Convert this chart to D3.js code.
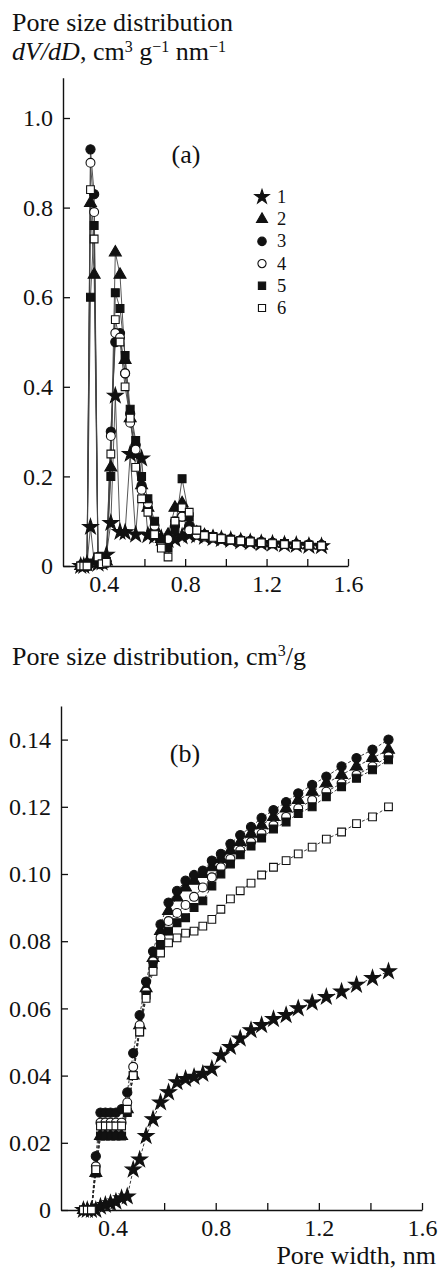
<!DOCTYPE html>
<html lang="en">
<head>
<meta charset="UTF-8">
<title>Pore size distribution</title>
<script src="https://cdn.jsdelivr.net/npm/d3@7"></script>
<style>
  body { margin: 0; background: #fff; }
  text { font-family: "Liberation Serif", "Times New Roman", serif; fill: #111; }
</style>
</head>
<body>
<svg id="chart" width="440" height="1271"></svg>
<script>
// pore width grid, nm (shared by both panels)
const poreWidth = [0.287, 0.302, 0.318, 0.335, 0.353, 0.372, 0.392, 0.413, 0.435, 0.457,
  0.48, 0.505, 0.53, 0.557, 0.586, 0.617, 0.65, 0.683, 0.716, 0.75,
  0.785, 0.82, 0.857, 0.895, 0.937, 0.978, 1.024, 1.073, 1.12, 1.174,
  1.229, 1.288, 1.346, 1.408, 1.47];

const seriesNames = ['1', '2', '3', '4', '5', '6'];

// (a) dV/dD, cm3 g-1 nm-1
const dist1 = [0, 0, 0.005, 0.087, 0.01, 0.005, 0.008, 0.025, 0.096, 0.38, 0.076, 0.075, 0.25, 0.07, 0.24, 0.069, 0.066, 0.062, 0.058, 0.06, 0.066, 0.07, 0.068, 0.065, 0.062, 0.06, 0.058, 0.055, 0.053, 0.051, 0.05, 0.048, 0.047, 0.045, 0.044];
const dist2 = [0, 0, 0.004, 0.81, 0.65, 0.01, 0.005, 0.01, 0.22, 0.70, 0.65, 0.46, 0.33, 0.25, 0.18, 0.13, 0.085, 0.06, 0.07, 0.13, 0.14, 0.09, 0.075, 0.068, 0.064, 0.06, 0.058, 0.056, 0.054, 0.052, 0.05, 0.049, 0.047, 0.046, 0.045];
const dist3 = [0, 0, 0, 0.93, 0.83, 0.02, 0.005, 0.01, 0.30, 0.50, 0.52, 0.43, 0.34, 0.27, 0.18, 0.13, 0.08, 0.05, 0.06, 0.09, 0.11, 0.09, 0.075, 0.07, 0.065, 0.062, 0.06, 0.058, 0.056, 0.054, 0.052, 0.05, 0.049, 0.048, 0.047];
const dist4 = [0, 0, 0, 0.90, 0.79, 0.02, 0.005, 0.01, 0.29, 0.52, 0.51, 0.43, 0.32, 0.26, 0.17, 0.14, 0.09, 0.05, 0.06, 0.10, 0.11, 0.08, 0.07, 0.066, 0.063, 0.06, 0.058, 0.056, 0.054, 0.052, 0.05, 0.049, 0.048, 0.047, 0.046];
const dist5 = [0, 0, 0, 0.60, 0.76, 0.015, 0.005, 0.01, 0.20, 0.61, 0.575, 0.47, 0.35, 0.28, 0.20, 0.15, 0.10, 0.06, 0.04, 0.08, 0.195, 0.11, 0.08, 0.07, 0.066, 0.062, 0.06, 0.057, 0.055, 0.053, 0.051, 0.05, 0.048, 0.047, 0.046];
const dist6 = [0, 0, 0, 0.84, 0.73, 0.02, 0.005, 0.008, 0.25, 0.55, 0.50, 0.40, 0.33, 0.22, 0.15, 0.12, 0.07, 0.04, 0.02, 0.10, 0.13, 0.12, 0.08, 0.068, 0.064, 0.061, 0.058, 0.056, 0.054, 0.052, 0.05, 0.048, 0.047, 0.046, 0.045];

// (b) cumulative pore volume, cm3/g
const cum1 = [0, 0, 0, 0, 0.001, 0.0015, 0.002, 0.0025, 0.0035, 0.004, 0.012, 0.015, 0.022, 0.027, 0.032, 0.035, 0.038, 0.039, 0.0396, 0.0405, 0.042, 0.046, 0.0485, 0.051, 0.0535, 0.055, 0.0568, 0.058, 0.060, 0.0617, 0.0634, 0.065, 0.067, 0.069, 0.071];
const cum2 = [0, 0, 0, 0.011, 0.022, 0.022, 0.022, 0.022, 0.022, 0.03, 0.040, 0.055, 0.066, 0.075, 0.083, 0.089, 0.093, 0.096, 0.098, 0.100, 0.102, 0.1045, 0.107, 0.1095, 0.112, 0.1145, 0.117, 0.1195, 0.122, 0.1245, 0.127, 0.1295, 0.132, 0.1345, 0.137];
const cum3 = [0, 0, 0, 0.016, 0.029, 0.029, 0.029, 0.029, 0.030, 0.035, 0.0467, 0.058, 0.068, 0.077, 0.085, 0.0915, 0.095, 0.098, 0.0997, 0.101, 0.104, 0.106, 0.109, 0.1116, 0.114, 0.1167, 0.119, 0.1214, 0.124, 0.1265, 0.129, 0.132, 0.1345, 0.137, 0.140];
const cum4 = [0, 0, 0, 0.013, 0.026, 0.026, 0.026, 0.026, 0.026, 0.032, 0.0426, 0.055, 0.065, 0.074, 0.081, 0.086, 0.0884, 0.0908, 0.0932, 0.096, 0.099, 0.102, 0.1045, 0.107, 0.1095, 0.112, 0.1145, 0.117, 0.1195, 0.122, 0.1245, 0.127, 0.1295, 0.132, 0.135];
const cum5 = [0, 0, 0, 0.011, 0.022, 0.022, 0.022, 0.022, 0.022, 0.029, 0.040, 0.053, 0.064, 0.073, 0.079, 0.083, 0.0855, 0.087, 0.090, 0.092, 0.0964, 0.100, 0.103, 0.1057, 0.1083, 0.1107, 0.1134, 0.1155, 0.118, 0.120, 0.123, 0.126, 0.1285, 0.131, 0.134];
const cum6 = [0, 0, 0, 0.012, 0.025, 0.025, 0.025, 0.025, 0.025, 0.030, 0.040, 0.053, 0.063, 0.071, 0.0765, 0.0795, 0.081, 0.0824, 0.083, 0.0845, 0.0865, 0.0895, 0.0926, 0.095, 0.0973, 0.0997, 0.102, 0.104, 0.106, 0.108, 0.1104, 0.1125, 0.115, 0.117, 0.120];

const xTicks = [0.4, 0.6, 0.8, 1.0, 1.2, 1.4, 1.6];
const xLabelled = [0.4, 0.8, 1.2, 1.6];
const yTicksA = [0, 0.2, 0.4, 0.6, 0.8, 1.0];
const yTicksB = [0, 0.02, 0.04, 0.06, 0.08, 0.10, 0.12, 0.14];

// marker per series: star, filled triangle, filled circle, open circle, filled square, open square
const markers = [
  { type: d3.symbolStar, size: 75, fill: '#111' },
  { type: d3.symbolTriangle, size: 62, fill: '#111' },
  { type: d3.symbolCircle, size: 66, fill: '#111' },
  { type: d3.symbolCircle, size: 62, fill: '#fff' },
  { type: d3.symbolSquare, size: 62, fill: '#111' },
  { type: d3.symbolSquare, size: 60, fill: '#fff' }
];

const svg = d3.select('#chart');

function panel(opt) {
  const x = d3.scaleLinear().domain([0.2, 1.6]).range(opt.xRange);
  const y = d3.scaleLinear().domain([0, opt.yTop]).range(opt.yRange);
  const g = svg.append('g');

  // y axis, ticks inward
  const ya = g.append('g')
    .attr('transform', `translate(${opt.xRange[0]},0)`)
    .call(d3.axisLeft(y).tickValues(opt.yTicks).tickSizeInner(-7).tickSizeOuter(0)
      .tickPadding(10).tickFormat(d => d === 0 ? '0' : d3.format(opt.yFmt)(d)));
  // x axis
  const xa = g.append('g')
    .attr('transform', `translate(0,${opt.yRange[0]})`)
    .call(d3.axisBottom(x).tickValues(xTicks).tickSizeInner(-7).tickSizeOuter(0)
      .tickPadding(9).tickFormat(d => xLabelled.some(v => Math.abs(v - d) < 1e-6) ? d3.format('.1f')(d) : ''));
  [ya, xa].forEach(a => {
    a.select('.domain').attr('stroke', '#111').attr('stroke-width', 1.4);
    a.selectAll('.tick line').attr('stroke', '#111').attr('stroke-width', 1.3);
    a.selectAll('text').attr('font-size', opt.tickFont).attr('fill', '#111')
      .style('font-family', '"Liberation Serif", serif');
  });

  const line = d3.line().x((d, i) => x(poreWidth[i])).y(d => y(d));
  opt.series.forEach((vals, s) => {
    g.append('path').datum(vals)
      .attr('d', line)
      .attr('fill', 'none')
      .attr('stroke', opt.lineColor)
      .attr('stroke-width', 0.9)
      .attr('stroke-dasharray', opt.dash);
  });
  opt.series.forEach((vals, s) => {
    const m = markers[s];
    g.append('g').selectAll('path').data(vals).join('path')
      .attr('transform', (d, i) => `translate(${x(poreWidth[i])},${y(d)})`)
      .attr('d', d3.symbol().type(m.type).size(m.size))
      .attr('fill', m.fill)
      .attr('stroke', '#111')
      .attr('stroke-width', 1.1);
  });
  return { x, y, g };
}

// ---- panel (a)
const pa = panel({
  xRange: [63, 348], yRange: [566, 566 - 1.09 * 448], yTop: 1.09,
  yTicks: yTicksA, yFmt: '.1f', tickFont: 24, dash: null, lineColor: '#444',
  series: [dist1, dist2, dist3, dist4, dist5, dist6]
});

const t1 = svg.append('text').attr('x', 12).attr('y', 31).attr('font-size', 26).text('Pore size distribution');
const t2 = svg.append('text').attr('x', 12).attr('y', 60).attr('font-size', 26);
t2.append('tspan').attr('font-style', 'italic').text('dV/dD');
t2.append('tspan').text(', cm');
t2.append('tspan').attr('font-size', 16).attr('dy', -8).text('3');
t2.append('tspan').attr('dy', 8).text(' g');
t2.append('tspan').attr('font-size', 16).attr('dy', -8).text('\u22121');
t2.append('tspan').attr('dy', 8).text(' nm');
t2.append('tspan').attr('font-size', 16).attr('dy', -8).text('\u22121');

svg.append('text').attr('x', 186).attr('y', 163).attr('text-anchor', 'middle')
  .attr('font-size', 26).text('(a)');

// legend
const leg = svg.append('g');
seriesNames.forEach((name, s) => {
  const m = markers[s];
  const ly = 197 + s * 22.2;
  leg.append('path')
    .attr('transform', `translate(262,${ly})`)
    .attr('d', d3.symbol().type(m.type).size(m.size * 0.85))
    .attr('fill', m.fill).attr('stroke', '#111').attr('stroke-width', 1.1);
  leg.append('text').attr('x', 277).attr('y', ly + 6).attr('font-size', 18.5).text(name);
});

// ---- panel (b)
const pb = panel({
  xRange: [61, 422], yRange: [1210, 1210 - 0.15 * 3360], yTop: 0.15,
  yTicks: yTicksB, yFmt: '.2f', tickFont: 24, dash: '3,2', lineColor: '#222',
  series: [cum1, cum2, cum3, cum4, cum5, cum6]
});

const t3 = svg.append('text').attr('x', 12).attr('y', 665).attr('font-size', 26);
t3.append('tspan').text('Pore size distribution, cm');
t3.append('tspan').attr('font-size', 16).attr('dy', -9).text('3');
t3.append('tspan').attr('dy', 9).text('/g');

svg.append('text').attr('x', 185).attr('y', 762).attr('text-anchor', 'middle')
  .attr('font-size', 26).text('(b)');

svg.append('text').attr('x', 436).attr('y', 1264).attr('text-anchor', 'end')
  .attr('font-size', 26).text('Pore width, nm');
</script>
</body>
</html>
